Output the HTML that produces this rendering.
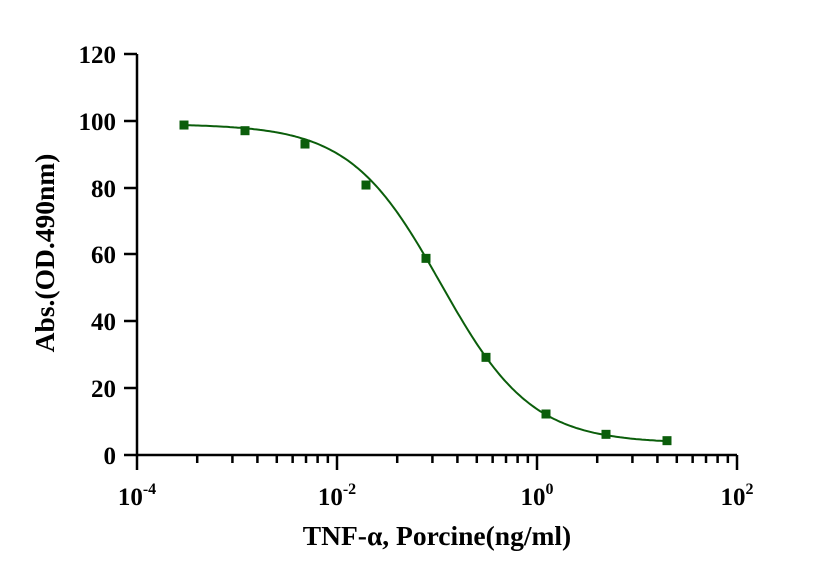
<!DOCTYPE html>
<html><head><style>body{margin:0;background:#fff}svg{display:block}text{font-family:"Liberation Serif",serif;font-weight:bold;fill:#000}</style></head>
<body>
<svg id="s" width="820" height="579" viewBox="0 0 820 579">
<g stroke="#000" stroke-width="2.5" fill="none">
<path d="M137,54 V455 H737"/>
<path d="M124,54H137M124,121H137M124,188H137M124,254H137M124,321H137M124,388H137M124,455H137"/>
</g>
<g id="ticks" stroke="#000" stroke-width="2.5"></g>
<g font-size="25" text-anchor="end">
<text x="116" y="63">120</text><text x="116" y="130">100</text><text x="116" y="197">80</text>
<text x="116" y="263">60</text><text x="116" y="330">40</text><text x="116" y="397">20</text><text x="116" y="464">0</text>
</g>
<g font-size="25" text-anchor="middle">
<text x="137" y="505">10<tspan font-size="16" dy="-11">-4</tspan></text>
<text x="337" y="505">10<tspan font-size="16" dy="-11">-2</tspan></text>
<text x="537" y="505">10<tspan font-size="16" dy="-11">0</tspan></text>
<text x="737" y="505">10<tspan font-size="16" dy="-11">2</tspan></text>
</g>
<text x="437" y="545" font-size="27.5" text-anchor="middle">TNF-α, Porcine(ng/ml)</text>
<text transform="translate(54,253) rotate(-90)" font-size="27.5" text-anchor="middle">Abs.(OD.490nm)</text>
<path id="c" fill="none" stroke="#0b5e0b" stroke-width="2"/>
<g id="p" fill="#0b5e0b"></g>
</svg>
<script>
var t='';for(var d=0;d<3;d++){var b=137+d*200;t+='<line x1="'+b+'" y1="455" x2="'+b+'" y2="470"/>';for(var k=2;k<10;k++){var x=b+200*Math.log10(k);t+='<line x1="'+x+'" y1="455" x2="'+x+'" y2="463"/>';}}
t+='<line x1="737" y1="455" x2="737" y2="470"/>';
document.getElementById('ticks').innerHTML=t;
function Y(v){return 455-v*3.333;}
var d='';for(var x=184;x<=667;x+=2){var v=3.5+95.8/(1+Math.exp((x-440.8)/45.4));d+=(x==184?'M':'L')+x+','+Y(v).toFixed(1);}
document.getElementById('c').setAttribute('d',d);
var xs=[184,245,305,366,426,486,546,606,667],ys=[99,97.3,93.3,81,59,29.3,12.3,6.2,4.3],p='';
for(var i=0;i<9;i++)p+='<rect x="'+(xs[i]-4.5)+'" y="'+(Y(ys[i])-4.5)+'" width="9" height="9"/>';
document.getElementById('p').innerHTML=p;
</script>
</body></html>
